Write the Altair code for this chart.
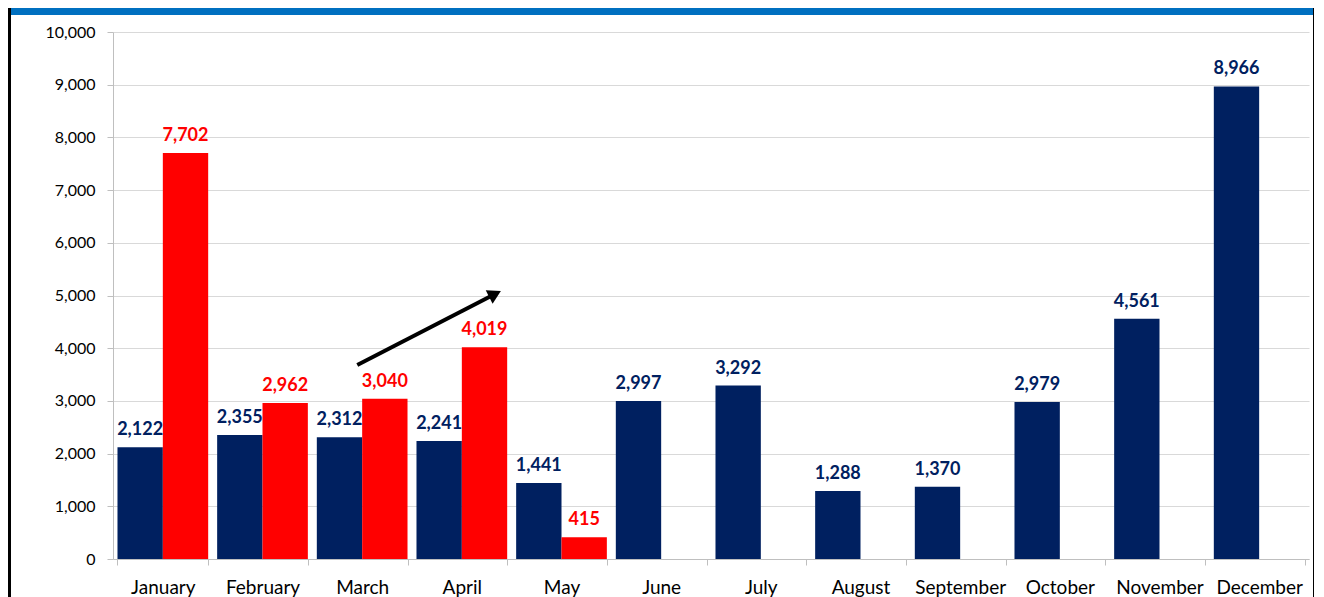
import altair as alt
import pandas as pd

months = ["January", "February", "March", "April", "May", "June", "July",
          "August", "September", "October", "November", "December"]
series_names = ["Previous year", "Current year"]
blue_vals = [2122, 2355, 2312, 2241, 1441, 2997, 3292, 1288, 1370, 2979, 4561, 8966]
red_vals = [7702, 2962, 3040, 4019, 415]
y_ticks = [0, 1000, 2000, 3000, 4000, 5000, 6000, 7000, 8000, 9000, 10000]
# arrow annotation in "month units" (0..12 across the plot) and value units
arrow_x = [2.451, 3.833]
arrow_y = [3681, 5028]

rows = []
for m, v in zip(months, blue_vals):
    rows.append({"month": m, "series": series_names[0], "value": v})
for m, v in zip(months, red_vals):
    rows.append({"month": m, "series": series_names[1], "value": v})
df = pd.DataFrame(rows)

W, H = 1196, 527
FONT = "Lato"

x = alt.X("month:N", sort=months,
          scale=alt.Scale(domain=months, paddingInner=0.09, paddingOuter=0.045),
          axis=alt.Axis(title=None, labelAngle=0, tickBand="extent", labelFont=FONT,
                        labelFontSize=19, labelColor="#000000", domainColor="#BFBFBF",
                        tickColor="#BFBFBF", tickSize=6, labelPadding=13, grid=False))
xo = alt.XOffset("series:N", sort=series_names,
                 scale=alt.Scale(domain=series_names, paddingInner=0, paddingOuter=0))
y = alt.Y("value:Q", scale=alt.Scale(domain=[0, 10000], nice=False),
          axis=alt.Axis(title=None, values=y_ticks, labelExpr="format(datum.value, ',')",
                        labelFont=FONT, labelFontSize=16, labelColor="#000000",
                        gridColor="#D9D9D9", domainColor="#BFBFBF", tickColor="#BFBFBF",
                        tickSize=6, labelPadding=12))
color = alt.Color("series:N", scale=alt.Scale(domain=series_names, range=["#002060", "#FF0000"]),
                  legend=None)

bars = alt.Chart(df).mark_bar().encode(x=x, xOffset=xo, y=y, color=color)
labels = alt.Chart(df).mark_text(font=FONT, fontWeight="bold", fontSize=18,
                                 baseline="alphabetic", dy=-12).encode(
    x=x, xOffset=xo, y=y, text=alt.Text("value:Q", format=","), color=color)
main = alt.layer(bars, labels)

arrow_df = pd.DataFrame({"x": [arrow_x[0]], "x2": [arrow_x[1]],
                         "y": [arrow_y[0]], "y2": [arrow_y[1]]})
head_df = pd.DataFrame({"x": [arrow_x[1]], "y": [arrow_y[1]]})
ax = alt.Scale(domain=[0, 12], nice=False, zero=False)
ay = alt.Scale(domain=[0, 10000], nice=False)
rule = alt.Chart(arrow_df).mark_rule(strokeWidth=4, color="black").encode(
    x=alt.X("x:Q", scale=ax, axis=None), x2="x2:Q",
    y=alt.Y("y:Q", scale=ay, axis=None), y2="y2:Q")
head = alt.Chart(head_df).mark_point(shape="triangle-up", filled=True, size=230, angle=63,
                                     color="black", opacity=1).encode(
    x=alt.X("x:Q", scale=ax, axis=None), y=alt.Y("y:Q", scale=ay, axis=None))

deco_df = pd.DataFrame({"k": [0]})
band = alt.Chart(deco_df).mark_rect(color="#0070C0").encode(
    x=alt.value(-105), x2=alt.value(1200), y=alt.value(-24), y2=alt.value(-17))
left_border = alt.Chart(deco_df).mark_rect(color="black").encode(
    x=alt.value(-105), x2=alt.value(-102), y=alt.value(-24), y2=alt.value(600))
right_border = alt.Chart(deco_df).mark_rect(color="black").encode(
    x=alt.value(1200), x2=alt.value(1205), y=alt.value(-24), y2=alt.value(600))
annot = alt.layer(rule, head, band, left_border, right_border)

chart = alt.layer(main, annot).resolve_scale(x="independent", y="independent").properties(
    width=W, height=H,
    padding={"left": 105, "top": 24, "right": 5, "bottom": 38},
    autosize=alt.AutoSizeParams(type="none"),
    background="white",
).configure_view(stroke=None)

chart.save("out.html", embed_options={"renderer": "svg", "actions": False})
